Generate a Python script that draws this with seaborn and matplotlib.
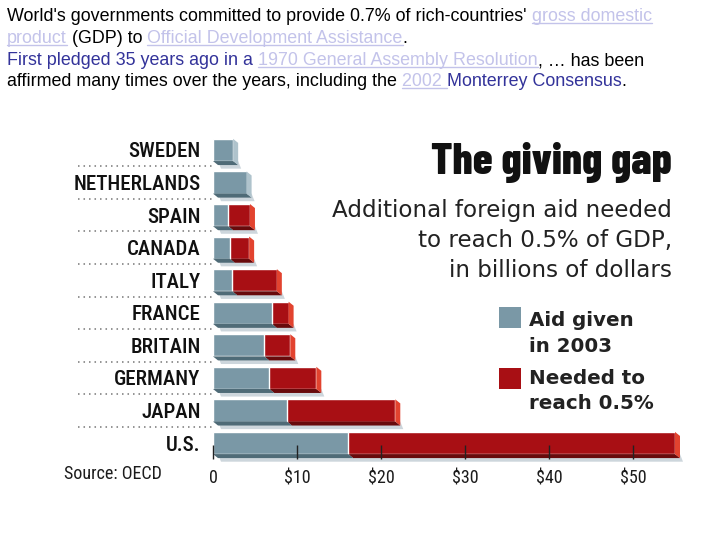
import matplotlib
matplotlib.use("Agg")
import matplotlib.pyplot as plt
import matplotlib.transforms as mtrans
import seaborn as sns
import numpy as np
import pandas as pd
from matplotlib.patches import Polygon, Rectangle
from matplotlib.lines import Line2D
from matplotlib import font_manager
from matplotlib.font_manager import FontProperties

# values (billions of dollars)
countries = ["SWEDEN", "NETHERLANDS", "SPAIN", "CANADA", "ITALY",
             "FRANCE", "BRITAIN", "GERMANY", "JAPAN", "U.S."]
aid_2003 = [2.4, 4.0, 1.8, 2.0, 2.3, 7.0, 6.1, 6.7, 8.8, 16.1]
needed = [0.0, 0.0, 2.6, 2.3, 5.3, 2.0, 3.1, 5.6, 12.9, 38.9]
xticks = [0, 10, 20, 30, 40, 50]
xtick_labels = ["0", "$10", "$20", "$30", "$40", "$50"]

title = "The giving gap"
subtitle = ["Additional foreign aid needed", "to reach 0.5% of GDP,", "in billions of dollars"]
legend_labels = [["Aid given", "in 2003"], ["Needed to", "reach 0.5%"]]
source = "Source: OECD"

# slide text: (segment, style)
header = [
    [("World's governments committed to provide 0.7% of rich-countries' ", "k"), ("gross domestic", "link")],
    [("product", "link"), (" (GDP) to ", "k"), ("Official Development Assistance", "link"), (".", "k")],
    [("First pledged 35 years ago in a ", "navy"), ("1970 General Assembly Resolution", "link"), (", \u2026 has been", "k")],
    [("affirmed many times over the years, including the ", "k"), ("2002 ", "link"),
     ("Monterrey Consensus", "navy"), (".", "k")],
]

sns.set_theme(style="white")
installed = {f.name for f in font_manager.fontManager.ttflist}


def pick(*names):
    for nm in names:
        if nm in installed:
            return nm
    return "Liberation Sans"


NARROW = pick("Liberation Sans Narrow", "Arial Narrow", "Roboto Condensed", "PT Sans Narrow", "Archivo Narrow")
HEAVY = pick("Barlow Condensed", "Asap Condensed", "Roboto Condensed", "Archivo Narrow")
plt.rcParams["font.family"] = ["Liberation Sans", "DejaVu Sans"]

BLUE, BLUE_DARK, BLUE_SIDE = "#7A98A6", "#4F6B77", "#AFC3CC"
RED, RED_DARK, RED_SIDE = "#A80F14", "#680A0C", "#E2432F"
SHADOW = "#CDD6DC"
INK = "#1c1c1c"

W, H = 720, 540
fig = plt.figure(figsize=(7.2, 5.4), dpi=100)
fig.patch.set_facecolor("white")
ax = fig.add_axes([213 / W, 1 - 459.3 / H, 470.4 / W, 325.6 / H])

df = pd.DataFrame({"country": countries, "aid": aid_2003, "needed": needed})
df["total"] = df["aid"] + df["needed"]

sns.barplot(data=df, x="total", y="country", color=RED, saturation=1, width=0.68,
            orient="h", ax=ax, zorder=1)
sns.barplot(data=df, x="aid", y="country", color=BLUE, saturation=1, width=0.68,
            orient="h", ax=ax, zorder=1.2)
ax.set_xlim(0, 56)
ax.set_ylim(9.5, -0.5)

# fake 3-D extrusion: bottom and right faces
sx = ax.transData.transform((1, 0))[0] - ax.transData.transform((0, 0))[0]
sy = ax.transData.transform((0, 0))[1] - ax.transData.transform((0, 1))[1]
dx, dy = 5 / sx, 4 / sy
n = len(countries)
red_bars, blue_bars = ax.patches[:n], ax.patches[n:2 * n]


def face(pts, color, z):
    ax.add_patch(Polygon(pts, closed=True, facecolor=color, edgecolor="none",
                         zorder=z, clip_on=False))


for rb, bb, nd in zip(red_bars, blue_bars, needed):
    yt, yb = rb.get_y(), rb.get_y() + rb.get_height()
    xt = rb.get_x() + rb.get_width()
    xa = bb.get_x() + bb.get_width()
    # soft drop shadow
    face([(dx, yb), (xt + dx, yb), (xt + 1.6 * dx, yb + 1.9 * dy), (1.6 * dx, yb + 1.9 * dy)], SHADOW, 0.6)
    if nd > 0:
        face([(xa, yb), (xt, yb), (xt + dx, yb + dy), (xa + dx, yb + dy)], RED_DARK, 1.05)
        face([(xt, yt), (xt + dx, yt + dy), (xt + dx, yb + dy), (xt, yb)], RED_SIDE, 1.06)
    face([(0, yb), (xa, yb), (xa + dx, yb + dy), (dx, yb + dy)], BLUE_DARK, 1.25)
    if nd == 0:
        face([(xa, yt), (xa + dx, yt + dy), (xa + dx, yb + dy), (xa, yb)], BLUE_SIDE, 1.26)

# dotted separators left of the bars
blend = mtrans.blended_transform_factory(ax.transAxes, ax.transData)
for k in range(n - 1):
    ax.plot([-0.287, 0], [k + 0.5, k + 0.5], transform=blend, clip_on=False,
            color="#777777", lw=1.1, ls=(0, (1, 2.6)))

for s in ax.spines.values():
    s.set_visible(False)
ax.set_axisbelow(False)
ax.set_xlabel("")
ax.set_ylabel("")
ax.set_xticks(xticks)
ax.set_xticklabels(xtick_labels, fontfamily=NARROW, fontsize=13, color=INK)
ax.tick_params(axis="x", direction="in", length=10, width=1, color="#222222",
               pad=7, bottom=True)
ax.tick_params(axis="y", length=0, pad=9)
for lab in ax.get_yticklabels():
    lab.set_fontfamily(NARROW)
    lab.set_fontsize(15)
    lab.set_fontweight(500)
    lab.set_color("#111111")

fig.text(64 / W, 1 - 479 / H, source, fontfamily=NARROW, fontsize=13, color=INK, va="baseline")

# title block
fig.text(672 / W, 1 - 174 / H, title, ha="right", va="baseline", fontfamily=HEAVY,
         fontweight=800, fontsize=32, color="#111111")
for line, yb in zip(subtitle, [217, 247, 277]):
    fig.text(672 / W, 1 - yb / H, line, ha="right", va="baseline",
             fontfamily="DejaVu Sans", fontsize=16.6, color="#222222")

# legend
for (l1, l2), col, top, b1, b2 in zip(legend_labels, [BLUE, RED], [307, 368], [326, 384], [352, 409]):
    fig.add_artist(Rectangle((499 / W, 1 - (top + 21) / H), 22 / W, 21 / H,
                             transform=fig.transFigure, facecolor=col, edgecolor="none"))
    fig.text(529 / W, 1 - b1 / H, l1, va="baseline", fontfamily="DejaVu Sans",
             fontweight="bold", fontsize=14.3, color="#222222")
    fig.text(529 / W, 1 - b2 / H, l2, va="baseline", fontfamily="DejaVu Sans",
             fontweight="bold", fontsize=14.3, color="#222222")

# slide header text with coloured links, sized so the first line spans ~649 px
colors = {"k": "#000000", "navy": "#33339A", "link": "#C3C3EA"}
renderer = fig.canvas.get_renderer()
fp = FontProperties(family=["Liberation Sans", "DejaVu Sans"], size=14)


def text_w(s):
    w1 = renderer.get_text_width_height_descent(s + "|", fp, ismath=False)[0]
    w0 = renderer.get_text_width_height_descent("|", fp, ismath=False)[0]
    return w1 - w0


line1 = "".join(seg for seg, _ in header[0])
fp.set_size(14 * 649 / text_w(line1))

x0 = 7
for segs, base in zip(header, [21, 43, 65, 86]):
    prefix = ""
    for seg, style in segs:
        xs = x0 + (text_w(prefix) if prefix else 0)
        xe = x0 + text_w(prefix + seg)
        fig.text(xs / W, 1 - base / H, seg, va="baseline", ha="left",
                 fontproperties=fp, color=colors[style])
        if style == "link":
            fig.add_artist(Line2D([xs / W, xe / W], [1 - (base + 2) / H] * 2,
                                  transform=fig.transFigure, color=colors[style], lw=1))
        prefix += seg

fig.savefig("out.png", dpi=100)
